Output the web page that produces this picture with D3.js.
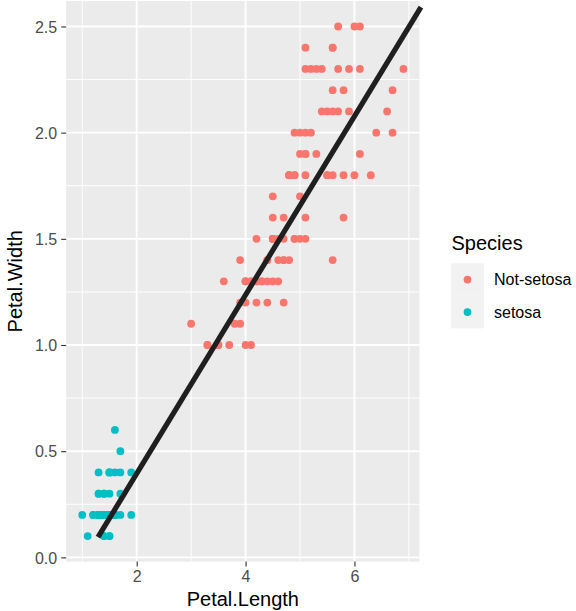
<!DOCTYPE html>
<html>
<head>
<meta charset="utf-8">
<script src="https://cdn.jsdelivr.net/npm/d3@7"></script>
<style>
  html, body { margin: 0; padding: 0; background: #ffffff; }
  svg { display: block; font-family: "Liberation Sans", Arial, Helvetica, sans-serif; }
</style>
</head>
<body>
<svg id="chart" width="576" height="611"></svg>
<script>
// Iris petal measurements (rows 1-50 setosa, 51-150 the other two species)
const petalLength = [
  1.4,1.4,1.3,1.5,1.4,1.7,1.4,1.5,1.4,1.5,1.5,1.6,1.4,1.1,1.2,1.5,1.3,1.4,1.7,1.5,
  1.7,1.5,1.0,1.7,1.9,1.6,1.6,1.5,1.4,1.6,1.6,1.5,1.5,1.4,1.5,1.2,1.3,1.4,1.3,1.5,
  1.3,1.3,1.3,1.6,1.9,1.4,1.6,1.4,1.5,1.4,
  4.7,4.5,4.9,4.0,4.6,4.5,4.7,3.3,4.6,3.9,3.5,4.2,4.0,4.7,3.6,4.4,4.5,4.1,4.5,3.9,
  4.8,4.0,4.9,4.7,4.3,4.4,4.8,5.0,4.5,3.5,3.8,3.7,3.9,5.1,4.5,4.5,4.7,4.4,4.1,4.0,
  4.4,4.6,4.0,3.3,4.2,4.2,4.2,4.3,3.0,4.1,
  6.0,5.1,5.9,5.6,5.8,6.6,4.5,6.3,5.8,6.1,5.1,5.3,5.5,5.0,5.1,5.3,5.5,6.7,6.9,5.0,
  5.7,4.9,6.7,4.9,5.7,6.0,4.8,4.9,5.6,5.8,6.1,6.4,5.6,5.1,5.6,6.1,5.6,5.5,4.8,5.4,
  5.6,5.1,5.1,5.9,5.7,5.2,5.0,5.2,5.4,5.1
];
const petalWidth = [
  0.2,0.2,0.2,0.2,0.2,0.4,0.3,0.2,0.2,0.1,0.2,0.2,0.1,0.1,0.2,0.4,0.4,0.3,0.3,0.3,
  0.2,0.4,0.2,0.5,0.2,0.2,0.4,0.2,0.2,0.2,0.2,0.4,0.1,0.2,0.2,0.2,0.2,0.1,0.2,0.2,
  0.3,0.3,0.2,0.6,0.4,0.3,0.2,0.2,0.2,0.2,
  1.4,1.5,1.5,1.3,1.5,1.3,1.6,1.0,1.3,1.4,1.0,1.5,1.0,1.4,1.3,1.4,1.5,1.0,1.5,1.1,
  1.8,1.3,1.5,1.2,1.3,1.4,1.4,1.7,1.5,1.0,1.1,1.0,1.2,1.6,1.5,1.6,1.5,1.3,1.3,1.3,
  1.2,1.4,1.2,1.0,1.3,1.2,1.3,1.3,1.1,1.3,
  2.5,1.9,2.1,1.8,2.2,2.1,1.7,1.8,1.8,2.5,2.0,1.9,2.1,2.0,2.4,2.3,1.8,2.2,2.3,1.5,
  2.3,2.0,2.0,1.8,2.1,1.8,1.8,1.8,2.1,1.6,1.9,2.0,2.2,1.5,1.4,2.3,2.4,1.8,1.8,2.1,
  2.4,2.3,1.9,2.3,2.5,2.3,1.9,2.0,2.3,1.8
];
const speciesGroups = ["Not-setosa", "setosa"];
const speciesColors = ["#F8766D", "#00BFC4"];
const species = petalLength.map((_, i) => i < 50 ? "setosa" : "Not-setosa");

// Fitted line: width = intercept + slope * length, drawn between lineStart and lineStop
const lineIntercept = -0.447;
const lineSlope = 0.4207;
const lineStart = 1.289;
const lineStop = 7.222;

const xTicks = [2, 4, 6];
const xMinorTicks = [1, 3, 5, 7];
const yTicks = [0.0, 0.5, 1.0, 1.5, 2.0, 2.5];
const yMinorTicks = [0.25, 0.75, 1.25, 1.75, 2.25];

const svg = d3.select("#chart");

const panel = { left: 66.2, right: 419.5, top: 1.0, bottom: 561.6 };
const xDomain = [0.705, 7.195];
const yDomain = [-0.02, 2.62];

const x = d3.scaleLinear().domain(xDomain).range([panel.left, panel.right]);
const y = d3.scaleLinear().domain(yDomain).range([panel.bottom, panel.top]);
const color = d3.scaleOrdinal().domain(speciesGroups).range(speciesColors);

// Panel background
svg.append("rect")
  .attr("x", panel.left).attr("y", panel.top)
  .attr("width", panel.right - panel.left).attr("height", panel.bottom - panel.top)
  .attr("fill", "#EBEBEB");

const grid = svg.append("g");
// Minor grid
grid.selectAll(".xminor").data(xMinorTicks).join("line")
  .attr("x1", d => x(d)).attr("x2", d => x(d))
  .attr("y1", panel.top).attr("y2", panel.bottom)
  .attr("stroke", "#ffffff").attr("stroke-width", 0.95);
grid.selectAll(".yminor").data(yMinorTicks).join("line")
  .attr("x1", panel.left).attr("x2", panel.right)
  .attr("y1", d => y(d)).attr("y2", d => y(d))
  .attr("stroke", "#ffffff").attr("stroke-width", 0.95);
// Major grid
grid.selectAll(".xmajor").data(xTicks).join("line")
  .attr("x1", d => x(d)).attr("x2", d => x(d))
  .attr("y1", panel.top).attr("y2", panel.bottom)
  .attr("stroke", "#ffffff").attr("stroke-width", 1.9);
grid.selectAll(".ymajor").data(yTicks).join("line")
  .attr("x1", panel.left).attr("x2", panel.right)
  .attr("y1", d => y(d)).attr("y2", d => y(d))
  .attr("stroke", "#ffffff").attr("stroke-width", 1.9);

const marks = svg.append("g");

const pts = petalLength.map((d, i) => ({ len: d, wid: petalWidth[i], sp: species[i] }));
marks.selectAll("circle").data(pts).join("circle")
  .attr("cx", d => x(d.len))
  .attr("cy", d => y(d.wid))
  .attr("r", 3.9)
  .attr("fill", d => color(d.sp));

// Fitted line
const lineData = [lineStart, lineStop].map(v => [v, lineIntercept + lineSlope * v]);
marks.append("path")
  .attr("d", d3.line().x(d => x(d[0])).y(d => y(d[1]))(lineData))
  .attr("fill", "none")
  .attr("stroke", "#1F1F1F")
  .attr("stroke-width", 5.2)
  .attr("stroke-linecap", "butt");

// Axes
const xAxis = d3.axisBottom(x).tickValues(xTicks).tickSize(5).tickPadding(4).tickFormat(d3.format("d"));
const gx = svg.append("g").attr("transform", `translate(0,${panel.bottom})`).call(xAxis);
gx.select(".domain").remove();
gx.selectAll(".tick line").attr("stroke", "#333333").attr("stroke-width", 1.1);
gx.selectAll(".tick text")
  .attr("fill", "#4D4D4D").attr("font-size", 16)
  .attr("font-family", "Liberation Sans, Arial, sans-serif")
  .attr("dy", null).attr("y", 20.7);

const yAxis = d3.axisLeft(y).tickValues(yTicks).tickSize(5).tickPadding(4).tickFormat(d3.format(".1f"));
const gy = svg.append("g").attr("transform", `translate(${panel.left},0)`).call(yAxis);
gy.select(".domain").remove();
gy.selectAll(".tick line").attr("stroke", "#333333").attr("stroke-width", 1.1);
gy.selectAll(".tick text")
  .attr("fill", "#4D4D4D").attr("font-size", 16)
  .attr("font-family", "Liberation Sans, Arial, sans-serif")
  .attr("dy", "0.36em");

// Axis titles
svg.append("text")
  .attr("x", (panel.left + panel.right) / 2).attr("y", 605.5)
  .attr("text-anchor", "middle").attr("font-size", 20).attr("fill", "#000")
  .text("Petal.Length");
svg.append("text")
  .attr("transform", `translate(21.6,${(panel.top + panel.bottom) / 2}) rotate(-90)`)
  .attr("text-anchor", "middle").attr("font-size", 20).attr("fill", "#000")
  .text("Petal.Width");

// Legend
const legend = svg.append("g");
legend.append("text")
  .attr("x", 451.5).attr("y", 250)
  .attr("font-size", 20).attr("fill", "#000")
  .text("Species");
const keyH = 32.5, keyW = 33, keyTop = 263.3, keyLeft = 451;
const items = legend.selectAll(".item").data(speciesGroups).join("g")
  .attr("transform", (d, i) => `translate(${keyLeft},${keyTop + i * keyH})`);
items.append("rect")
  .attr("width", keyW).attr("height", keyH)
  .attr("fill", "#F2F2F2");
items.append("circle")
  .attr("cx", keyW / 2).attr("cy", keyH / 2).attr("r", 3.9)
  .attr("fill", d => color(d));
items.append("text")
  .attr("x", keyW + 10).attr("y", keyH / 2).attr("dy", "0.36em")
  .attr("font-size", 16).attr("fill", "#000")
  .text(d => d);
</script>
</body>
</html>
